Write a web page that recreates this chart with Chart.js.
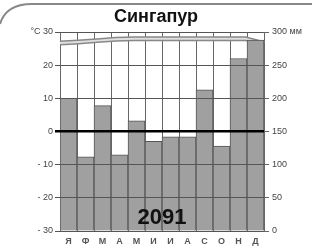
<!DOCTYPE html>
<html><head><meta charset="utf-8">
<script src="https://cdn.jsdelivr.net/npm/chart.js@4.4.1/dist/chart.umd.min.js"></script>
<style>html,body{margin:0;padding:0;background:#fff}#wrap{width:312px;height:247px}</style>
</head><body><div id="wrap"><canvas id="c" width="312" height="247"></canvas></div>
<script>
const months = ['Я','Ф','М','А','М','И','И','А','С','О','Н','Д'];
const precipitation = [200, 112, 189, 115, 166, 135, 142, 142, 213, 128, 260, 288];
const temperature = [26.7, 27, 27.4, 27.8, 28, 28, 28, 28, 28, 28, 28, 26.5];
const tempTicks = [-30, -20, -10, 0, 10, 20, 30];
const precipTicks = [0, 50, 100, 150, 200, 250, 300];
const title = 'Сингапур';
const yearLabel = '2091';

const FONT = '"Liberation Sans", Arial, sans-serif';

const decor = {
  id: 'decor',
  beforeDraw(chart) {
    const ctx = chart.ctx;
    ctx.save();
    ctx.strokeStyle = '#888';
    ctx.lineWidth = 2;
    ctx.beginPath();
    ctx.moveTo(0, 24);
    ctx.quadraticCurveTo(6, 4, 32, 4);
    ctx.lineTo(312, 4);
    ctx.stroke();
    ctx.restore();
  },
  afterDraw(chart) {
    const ctx = chart.ctx;
    ctx.save();
    ctx.fillStyle = '#111';
    ctx.font = 'bold 22px ' + FONT;
    ctx.textAlign = 'center';
    ctx.textBaseline = 'middle';
    ctx.fillText(yearLabel, 162, 218);
    ctx.restore();
  }
};

new Chart(document.getElementById('c'), {
  type: 'bar',
  data: {
    labels: months,
    datasets: [
      {
        type: 'bar', data: precipitation, yAxisID: 'yR', xAxisID: 'x', order: 0,
        backgroundColor: '#a0a0a0', borderColor: '#555', borderWidth: 1,
        barPercentage: 1, categoryPercentage: 1, grouped: false
      },
      {
        type: 'line', data: temperature, yAxisID: 'y', xAxisID: 'x2', order: 1,
        borderColor: '#e0e0e0', borderWidth: 2, pointRadius: 0, tension: 0, fill: false
      },
      {
        type: 'line', data: temperature, yAxisID: 'y', xAxisID: 'x2', order: 2,
        borderColor: '#888', borderWidth: 5, pointRadius: 0, tension: 0, fill: false
      }
    ]
  },
  options: {
    responsive: false,
    animation: false,
    events: [],
    layout: { padding: 0 },
    plugins: {
      legend: { display: false },
      tooltip: { enabled: false },
      title: {
        display: true, text: title, color: '#111',
        font: { family: FONT, size: 18, weight: 'bold', lineHeight: 1.2 },
        padding: { top: 6, bottom: 4.4 }
      }
    },
    scales: {
      x: {
        type: 'category', position: 'bottom', offset: true,
        afterFit(s) { s.height = 16; },
        grid: { color: '#666', lineWidth: 1, offset: true, drawTicks: false },
        border: { display: false },
        ticks: { color: '#555', padding: 5, font: { family: FONT, size: 9, weight: 'bold' }, maxRotation: 0, autoSkip: false }
      },
      x2: {
        type: 'category', labels: months, offset: false, display: false
      },
      y: {
        position: 'left', min: -30, max: 30,
        afterFit(s) { s.width = 60; },
        afterBuildTicks(s) { s.ticks = tempTicks.map(v => ({ value: v })); },
        grid: {
          z: 1,
          color: c => c.tick && c.tick.value === 0 ? '#000' : '#555',
          lineWidth: c => c.tick && c.tick.value === 0 ? 2.5 : 1,
          tickLength: 5
        },
        border: { display: false },
        ticks: {
          color: '#444', padding: 2, font: { family: FONT, size: 9 },
          callback: v => v === 30 ? '°C 30' : (v < 0 ? '- ' + Math.abs(v) : String(v))
        }
      },
      yR: {
        position: 'right', min: 0, max: 300,
        afterFit(s) { s.width = 48; },
        afterBuildTicks(s) { s.ticks = precipTicks.map(v => ({ value: v })); },
        grid: { display: true, drawOnChartArea: false, color: '#666', tickLength: 5 },
        border: { display: false },
        ticks: {
          color: '#444', padding: 3, font: { family: FONT, size: 9 },
          callback: v => v === 300 ? '300 мм' : String(v)
        }
      }
    }
  },
  plugins: [decor]
});
</script>
</body></html>
